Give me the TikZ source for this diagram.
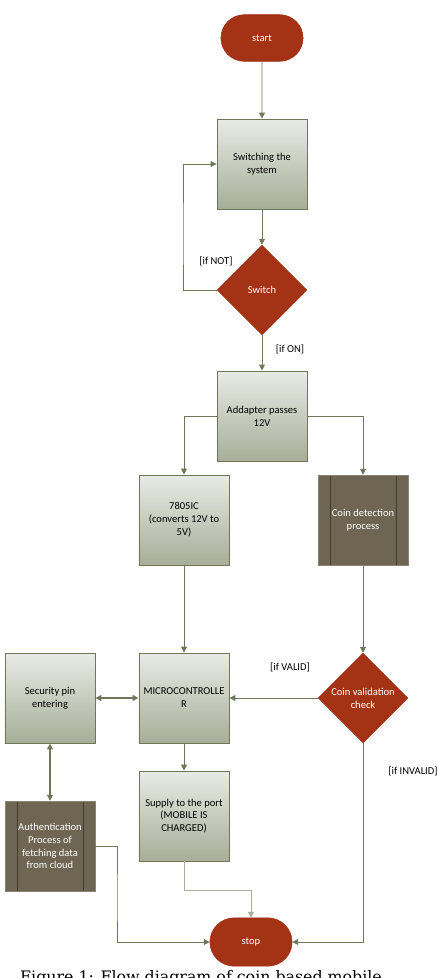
\documentclass[tikz,border=0pt]{standalone}
\usepackage{fontspec}
\setsansfont{Carlito}
\newfontfamily\captionserif{DejaVu Serif}
\usetikzlibrary{shapes.geometric, shapes.misc, arrows.meta, positioning}
\definecolor{Brick}{RGB}{164, 50, 20}
\definecolor{Olive}{RGB}{110, 120, 88}
\definecolor{BoxTop}{RGB}{232, 235, 228}
\definecolor{BoxBottom}{RGB}{166, 174, 152}
\definecolor{Mud}{RGB}{110, 101, 82}

\begin{document}
\begin{tikzpicture}[
        x=0.03cm, y=-0.03cm,
        terminal/.style={
            rounded rectangle,
            fill=Brick,
            draw=Brick,
            text=white,
            minimum width=2.7cm,
            minimum height=1.4cm,
            font=\sffamily\small
        },
        stepbox/.style={
            rectangle,
            draw=Olive,
            top color=BoxTop,
            bottom color=BoxBottom,
            thick,
            minimum width=2.7cm,
            minimum height=2.7cm,
            inner sep=2pt,
            align=center,
            font=\sffamily\small
        },
        process/.style={
            rectangle,
            draw=Mud!80,
            fill=Mud,
            text=white,
            minimum width=2.7cm,
            minimum height=2.7cm,
            align=center,
            font=\sffamily\small,
            path picture={
                \draw[Mud!60!black, thin]
                    ([xshift=0.36cm]path picture bounding box.north west) --
                    ([xshift=0.36cm]path picture bounding box.south west)
                    ([xshift=-0.36cm]path picture bounding box.north east) --
                    ([xshift=-0.36cm]path picture bounding box.south east);
            }
        },
        decision/.style={
            diamond,
            fill=Brick,
            draw=Brick,
            text=white,
            aspect=1,
            minimum width=2.7cm,
            minimum height=2.7cm,
            inner sep=0pt,
            align=center,
            font=\sffamily\small
        },
        guard/.style={
            font=\sffamily\small
        },
        arrow/.style={
            -{Triangle[width=5pt, length=5pt]},
            thick,
            draw=Olive
        },
        both/.style={
            {Triangle[width=5pt, length=5pt]}-{Triangle[width=5pt, length=5pt]},
            very thick,
            draw=Olive
        }
    ]
        \clip (0, 0) rectangle (436, 978);
        \fill[white] (0, 0) rectangle (436, 978);

        % Main column
        \node[terminal] (start) at (262, 38) {start};
        \node[stepbox] (switching) at (262, 164) {Switching the\\system};
        \node[decision] (switch) at (262, 290) {Switch};
        \node[stepbox] (adapter) at (262, 416) {Addapter passes\\12V};

        % Two branches
        \node[stepbox] (regulator) at (184, 520) {7805IC\\(converts 12V to\\5V)};
        \node[process] (detection) at (363, 520) {Coin detection\\process};

        \node[stepbox] (micro) at (184, 698) {MICROCONTROLLE\\R};
        \node[stepbox] (security) at (50, 698) {Security pin\\entering};
        \node[decision] (validation) at (363, 698) {Coin validation\\check};

        \node[stepbox] (supply) at (184, 816) {Supply to the port\\(MOBILE IS\\CHARGED)};
        \node[process] (auth) at (50, 846) {Authentication\\Process of\\fetching data\\from cloud};

        \node[terminal, minimum height=1.45cm] (stop) at (251, 942) {stop};

        % Guard labels
        \node[guard] (notlabel) at (216, 261) {[if NOT]};
        \node[guard] (onlabel) at (290, 349) {[if ON]};
        \node[guard] (validlabel) at (290, 667) {[if VALID]};
        \node[guard] (invalidlabel) at (413, 771) {[if INVALID]};

        % Connectors
        \draw[arrow] (start) -- (switching);
        \draw[arrow] (switching) -- (switch);
        \draw[arrow] (switch.west) -| (183, 240) |- (switching.west);
        \draw[arrow] (switch) -- (adapter);
        \draw[arrow] (adapter.west) -| (regulator.north);
        \draw[arrow] (adapter.east) -| (detection.north);
        \draw[arrow] (regulator) -- (micro);
        \draw[arrow] (detection) -- (validation);
        \draw[arrow] (validation.west) -- (micro.east);
        \draw[both] (security.east) -- (micro.west);
        \draw[both] (security.south) -- (auth.north);
        \draw[arrow] (micro) -- (supply);
        \draw[arrow, draw=Olive!60] (supply.south) |- (251, 890) -- (stop.north);
        \draw[arrow] (auth.east) -| (117, 900) |- (stop.west);
        \draw[arrow] (validation.south) |- (stop.east);

        % Caption, cut by the lower edge as in the source
        \node[anchor=north west, font=\captionserif\fontsize{13.5}{16}\selectfont, inner sep=0pt] (caption) at (20, 970) {Figure 1: Flow diagram of coin based mobile};
\end{tikzpicture}
\end{document}
